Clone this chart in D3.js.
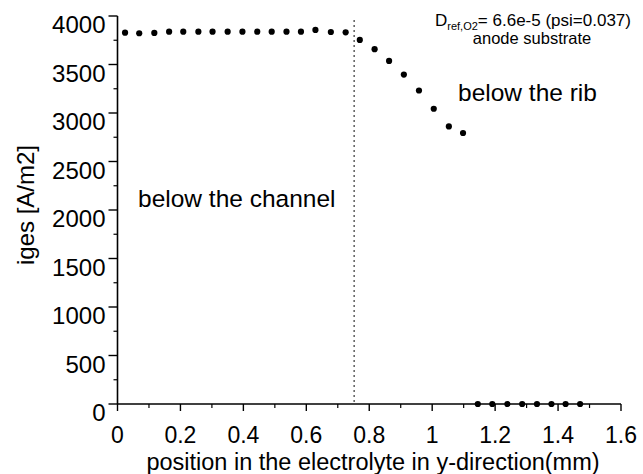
<!DOCTYPE html>
<html>
<head>
<meta charset="utf-8">
<script src="https://cdn.jsdelivr.net/npm/d3@7/dist/d3.min.js"></script>
<style>
  html, body { margin: 0; padding: 0; background: #fff; }
  svg { display: block; font-family: Arial, "Liberation Sans", sans-serif; }
</style>
</head>
<body>
<svg id="chart" width="643" height="474"></svg>
<script>
// values
const channelX = [0.024, 0.069, 0.117, 0.164, 0.209, 0.257, 0.302, 0.350, 0.397, 0.444, 0.490, 0.537, 0.583, 0.629, 0.678, 0.725];
const channelY = [3828, 3822, 3825, 3838, 3838, 3838, 3838, 3838, 3838, 3838, 3838, 3838, 3838, 3856, 3835, 3832];
const ribX = [0.770, 0.817, 0.863, 0.910, 0.958, 1.005, 1.053, 1.098];
const ribY = [3753, 3658, 3537, 3396, 3232, 3044, 2862, 2794];
const zeroX = [1.145, 1.191, 1.239, 1.286, 1.333, 1.379, 1.424, 1.470];
const zeroY = [0, 0, 0, 0, 0, 0, 0, 0];
const xTicks = [0, 0.2, 0.4, 0.6, 0.8, 1, 1.2, 1.4, 1.6];
const yTicks = [0, 500, 1000, 1500, 2000, 2500, 3000, 3500, 4000];
const boundaryX = 0.752;

const svg = d3.select('#chart');
const x = d3.scaleLinear().domain([0, 1.6]).range([117.5, 621]);
const y = d3.scaleLinear().domain([0, 4000]).range([404, 16]);

// minor ticks
const xMinor = d3.range(0, 1.601, 0.1).filter(v => !xTicks.some(t => Math.abs(t - v) < 1e-6));
const yMinor = d3.range(250, 4000, 500);

// x axis
const gx = svg.append('g').attr('transform', `translate(0,${y(0)})`);
gx.append('line').attr('x1', x(0)).attr('x2', x(1.6)).attr('stroke', '#000').attr('stroke-width', 1.6);
gx.selectAll('line.major').data(xTicks).enter().append('line')
  .attr('class', 'major')
  .attr('x1', d => x(d)).attr('x2', d => x(d)).attr('y1', 0).attr('y2', 7)
  .attr('stroke', '#000').attr('stroke-width', 1.4);
gx.selectAll('line.minor').data(xMinor).enter().append('line')
  .attr('class', 'minor')
  .attr('x1', d => x(d)).attr('x2', d => x(d)).attr('y1', 0).attr('y2', 4)
  .attr('stroke', '#000').attr('stroke-width', 1.2);
gx.selectAll('text').data(xTicks).enter().append('text')
  .attr('x', d => x(d)).attr('y', 39)
  .attr('text-anchor', 'middle').attr('font-size', 23)
  .text(d => d3.format('~g')(d));

// y axis
const gy = svg.append('g').attr('transform', `translate(${x(0)},0)`);
gy.append('line').attr('y1', y(0)).attr('y2', y(4000)).attr('stroke', '#000').attr('stroke-width', 1.6);
gy.selectAll('line.major').data(yTicks).enter().append('line')
  .attr('class', 'major')
  .attr('y1', d => y(d)).attr('y2', d => y(d)).attr('x1', -9).attr('x2', 0)
  .attr('stroke', '#000').attr('stroke-width', 1.4);
gy.selectAll('line.minor').data(yMinor).enter().append('line')
  .attr('class', 'minor')
  .attr('y1', d => y(d)).attr('y2', d => y(d)).attr('x1', -4).attr('x2', 0)
  .attr('stroke', '#000').attr('stroke-width', 1.2);
gy.selectAll('text').data(yTicks).enter().append('text')
  .attr('x', -12).attr('y', d => y(d) + 17)
  .attr('text-anchor', 'end').attr('font-size', 24)
  .text(d => d);

// channel / rib boundary
svg.append('line')
  .attr('x1', x(boundaryX)).attr('x2', x(boundaryX))
  .attr('y1', y(3960)).attr('y2', y(0))
  .attr('stroke', '#444').attr('stroke-width', 1.3)
  .attr('stroke-dasharray', '2,3');

// points
const pts = [];
channelX.forEach((v, i) => pts.push([v, channelY[i]]));
ribX.forEach((v, i) => pts.push([v, ribY[i]]));
zeroX.forEach((v, i) => pts.push([v, zeroY[i]]));
svg.append('g').selectAll('circle').data(pts).enter().append('circle')
  .attr('cx', d => x(d[0])).attr('cy', d => y(d[1])).attr('r', 3.1)
  .attr('fill', '#000');

// axis titles
svg.append('text')
  .attr('x', 373).attr('y', 470)
  .attr('text-anchor', 'middle').attr('font-size', 23.5)
  .text('position in the electrolyte in y-direction(mm)');
svg.append('text')
  .attr('transform', 'translate(34,205) rotate(-90)')
  .attr('text-anchor', 'middle').attr('font-size', 24)
  .text('iges [A/m2]');

// region labels
svg.append('text').attr('x', 138).attr('y', 207).attr('font-size', 24.5).text('below the channel');
svg.append('text').attr('x', 458).attr('y', 101).attr('font-size', 24.5).text('below the rib');

// annotation
const note = svg.append('text').attr('x', 435).attr('y', 26).attr('font-size', 17);
note.append('tspan').text('D');
note.append('tspan').attr('font-size', 11).attr('dy', 4).text('ref,O2');
note.append('tspan').attr('dy', -4).text('= 6.6e-5 (psi=0.037)');
svg.append('text').attr('x', 532).attr('y', 44).attr('text-anchor', 'middle').attr('font-size', 16.5)
  .text('anode substrate');
</script>
</body>
</html>
